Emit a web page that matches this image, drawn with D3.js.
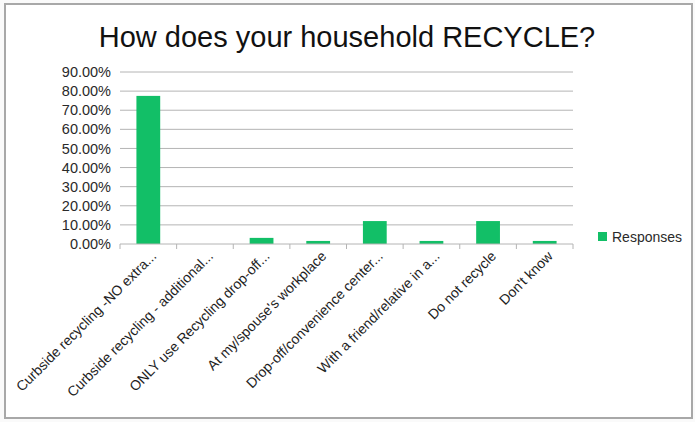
<!DOCTYPE html>
<html>
<head>
<meta charset="utf-8">
<script src="https://cdn.jsdelivr.net/npm/d3@7"></script>
<style>
  body { margin: 0; background: #fafafa; }
  svg { display: block; }
</style>
</head>
<body>
<div id="chart"></div>
<script>
// données
var categories = ["Curbside recycling -NO extra...", "Curbside recycling - additional...",
    "ONLY use Recycling drop-off...", "At my/spouse's workplace", "Drop-off/convenience center...",
    "With a friend/relative in a...", "Do not recycle", "Don't know"];
var responses = [77.5, 0, 3.2, 1.6, 12.0, 1.6, 12.0, 1.6];
var yTicks = [0, 10, 20, 30, 40, 50, 60, 70, 80, 90];
var titre = "How does your household RECYCLE?";
var serie = "Responses";

var largeurSvg = 695, hauteurSvg = 422;
var vert = "#12bf67";
var police = "Liberation Sans, Arial, sans-serif";

var svg = d3.select("#chart").append("svg")
    .attr("width", largeurSvg)
    .attr("height", hauteurSvg);

// cadre
svg.append("rect")
    .attr("x", 5).attr("y", 4)
    .attr("width", 687).attr("height", 414)
    .attr("fill", "#fff")
    .attr("stroke", "#a8a8a8")
    .attr("stroke-width", 2);

svg.append("text")
    .attr("x", 347).attr("y", 47)
    .attr("text-anchor", "middle")
    .style("font-family", police)
    .style("font-size", "29px")
    .attr("fill", "#111")
    .text(titre);

var marges = {haut: 72, gauche: 120, droite: 573, bas: 244};

var x = d3.scaleBand()
    .domain(categories)
    .range([marges.gauche, marges.droite])
    .paddingInner(0.58).paddingOuter(0.29);

var y = d3.scaleLinear()
    .domain([0, 90])
    .range([marges.bas, marges.haut]);

// grille
svg.append("g")
    .selectAll("line")
    .data(yTicks.slice(1))
    .enter().append("line")
        .attr("x1", marges.gauche).attr("x2", marges.droite)
        .attr("y1", function(d) { return y(d); })
        .attr("y2", function(d) { return y(d); })
        .attr("stroke", "#b4b4b4")
        .attr("stroke-width", 1);

// axe y
var axeY = svg.append("g")
    .attr("transform", "translate(" + marges.gauche + ",0)")
    .call(d3.axisLeft(y).tickValues(yTicks).tickSize(0).tickPadding(9)
        .tickFormat(function(d) { return d.toFixed(2) + "%"; }));
axeY.select(".domain").remove();
axeY.selectAll("text")
    .style("font-family", police)
    .style("font-size", "14.5px")
    .attr("fill", "#2a2a2a");

// barres
svg.append("g")
    .selectAll("rect")
    .data(responses)
    .enter().append("rect")
        .attr("x", function(d, i) { return x(categories[i]); })
        .attr("y", function(d) { return y(d); })
        .attr("width", x.bandwidth())
        .attr("height", function(d) { return y(0) - y(d); })
        .attr("fill", vert);

// axe x
var pas = x.step();
svg.append("line")
    .attr("x1", marges.gauche).attr("x2", marges.droite)
    .attr("y1", y(0)).attr("y2", y(0))
    .attr("stroke", "#b4b4b4");
svg.append("g")
    .selectAll("line")
    .data(d3.range(categories.length + 1))
    .enter().append("line")
        .attr("x1", function(i) { return marges.gauche + i * pas; })
        .attr("x2", function(i) { return marges.gauche + i * pas; })
        .attr("y1", y(0)).attr("y2", y(0) + 5)
        .attr("stroke", "#b4b4b4");

svg.append("g")
    .selectAll("text")
    .data(categories)
    .enter().append("text")
        .attr("transform", function(d) {
            return "translate(" + (x(d) + x.bandwidth() / 2 + 9) + "," + (y(0) + 13) + ") rotate(-45)";
        })
        .attr("text-anchor", "end")
        .style("font-family", police)
        .style("font-size", "14px")
        .attr("fill", "#1e1e1e")
        .text(function(d) { return d; });

// légende
var legende = svg.append("g").attr("transform", "translate(598,232)");
legende.append("rect")
    .attr("width", 9).attr("height", 9)
    .attr("fill", vert);
legende.append("text")
    .attr("x", 14).attr("y", 10)
    .style("font-family", police)
    .style("font-size", "14px")
    .attr("fill", "#2a2a2a")
    .text(serie);
</script>
</body>
</html>
